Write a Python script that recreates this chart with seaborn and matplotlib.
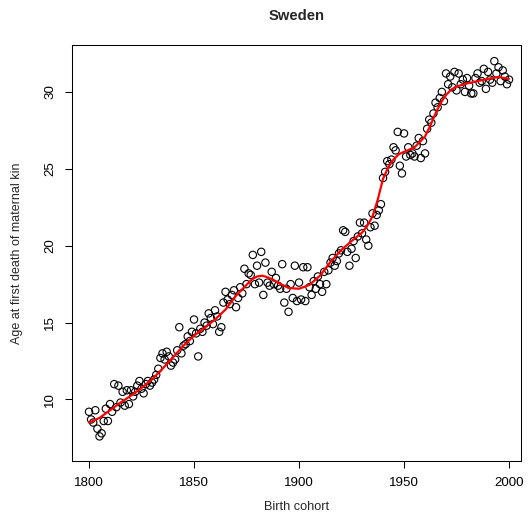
import numpy as np
import pandas as pd
import matplotlib
matplotlib.use("Agg")
import matplotlib.pyplot as plt
import seaborn as sns

# ---- data ----
years = list(range(1800, 2001))
age = [
    # 1800-1809
    9.2, 8.7, 8.5, 9.3, 8.1, 7.6, 7.8, 8.6, 9.4, 8.6,
    # 1810-1819
    9.7, 9.2, 11.0, 9.5, 10.9, 9.8, 10.5, 9.6, 10.6, 9.7,
    # 1820-1829
    10.6, 10.2, 10.5, 10.9, 11.2, 10.7, 10.4, 11.0, 11.2, 10.9,
    # 1830-1839
    11.1, 11.3, 11.6, 12.0, 12.7, 13.0, 12.6, 13.1, 12.8, 12.2,
    # 1840-1849
    12.4, 12.6, 13.2, 14.7, 13.0, 13.5, 13.6, 14.1, 13.8, 14.4,
    # 1850-1859
    15.2, 14.3, 12.8, 14.6, 14.4, 15.0, 14.8, 15.6, 15.3, 14.9,
    # 1860-1869
    15.8, 15.4, 14.4, 14.7, 16.3, 17.0, 16.5, 16.2, 16.8, 17.1,
    # 1870-1879
    16.0, 16.6, 17.3, 16.9, 18.5, 17.5, 18.2, 18.1, 19.4, 17.5,
    # 1880-1889
    18.7, 17.6, 19.6, 16.8, 18.9, 17.6, 17.4, 18.3, 17.5, 17.9,
    # 1890-1899
    17.4, 17.2, 18.8, 16.3, 17.2, 15.7, 17.5, 16.6, 18.7, 16.4,
    # 1900-1909
    17.6, 16.5, 18.6, 16.4, 18.6, 17.3, 16.8, 17.7, 17.2, 18.0,
    # 1910-1919
    17.5, 17.0, 18.3, 17.5, 18.4, 18.9, 19.2, 18.7, 19.0, 19.5,
    # 1920-1929
    19.7, 21.0, 20.9, 19.6, 18.7, 19.8, 20.3, 19.2, 20.6, 21.5,
    # 1930-1939
    20.8, 21.5, 20.4, 20.0, 21.2, 22.1, 21.3, 22.0, 22.3, 22.7,
    # 1940-1949
    24.4, 24.8, 25.5, 25.3, 25.6, 26.4, 26.2, 27.4, 25.2, 24.7,
    # 1950-1959
    27.3, 25.8, 26.4, 25.9, 26.0, 25.8, 26.5, 27.0, 25.7, 26.8,
    # 1960-1969
    26.0, 27.6, 28.2, 28.0, 28.6, 29.3, 29.0, 29.6, 30.0, 29.4,
    # 1970-1979
    31.2, 30.5, 31.0, 30.3, 31.3, 30.1, 31.2, 30.5, 30.8, 30.0,
    # 1980-1989
    30.9, 30.4, 29.9, 29.9, 30.9, 31.2, 30.6, 30.7, 31.5, 30.2,
    # 1990-2000
    31.3, 30.8, 30.6, 32.0, 31.2, 31.6, 30.7, 31.4, 31.0, 30.5, 30.8,
]

smooth_years = [
    1800, 1805, 1810, 1815, 1820, 1825, 1830, 1835, 1840, 1845,
    1850, 1855, 1860, 1865, 1870, 1875, 1877.5, 1880, 1882.5, 1885,
    1887.5, 1890, 1895, 1900, 1905, 1910, 1915, 1920, 1925, 1930,
    1932.5, 1935, 1937.5, 1940, 1942.5, 1945, 1947.5, 1950, 1955, 1960,
    1962.5, 1965, 1967.5, 1970, 1972.5, 1975, 1980, 1985, 1990, 1995,
    2000,
]
smooth_age = [
    8.5, 8.8, 9.3, 9.8, 10.25, 10.75, 11.3, 12.0, 12.75, 13.5,
    14.15, 14.65, 15.2, 15.85, 16.75, 17.45, 17.8, 18.0, 18.05, 17.95,
    17.8, 17.6, 17.25, 17.2, 17.45, 18.05, 18.95, 19.7, 20.3, 20.85,
    21.3, 21.9, 23.0, 24.35, 25.1, 25.6, 25.95, 26.1, 26.4, 27.1,
    27.8, 28.6, 29.3, 29.8, 30.15, 30.35, 30.55, 30.7, 30.85, 30.97,
    30.85,
]

x_ticks = [1800, 1850, 1900, 1950, 2000]
y_ticks = [10, 15, 20, 25, 30]

pts = pd.DataFrame({"cohort": years, "age": age})
fit = pd.DataFrame({"cohort": smooth_years, "age": smooth_age})

# ---- figure ----
sns.set_theme(style="white")
plt.rcParams["font.family"] = ["Liberation Sans", "DejaVu Sans"]

W, H = 528, 521
fig = plt.figure(figsize=(W / 100, H / 100), dpi=100)
L, R, T, B = 72, 521, 45, 461
ax = fig.add_axes([L / W, 1 - B / H, (R - L) / W, (B - T) / H])

sns.scatterplot(data=pts, x="cohort", y="age", ax=ax, marker="o",
                s=28, facecolors="none", edgecolor="black", linewidth=0.8)
sns.lineplot(data=fit, x="cohort", y="age", ax=ax, color="red",
             linewidth=1.6, estimator=None, sort=True)

ax.set_xlim(1791.9, 2005.7)
ax.set_ylim(6.0, 33.05)
ax.set_xticks(x_ticks)
ax.set_yticks(y_ticks)
ax.set_xticklabels([str(v) for v in x_ticks])
ax.set_yticklabels([str(v) for v in y_ticks], rotation=90, va="center")
ax.set_xlabel("")
ax.set_ylabel("")
for s in ax.spines.values():
    s.set_visible(True)
    s.set_color("black")
    s.set_linewidth(0.75)
ax.tick_params(axis="both", direction="out", length=5, width=0.75,
               colors="black", labelsize=9.6, pad=6.5,
               bottom=True, left=True)
ax.grid(False)

cx = (L + R) / 2 / W
fig.text(cx, 1 - 16 / H, "Sweden", ha="center", va="center",
         fontsize=10.6, fontweight="bold")
fig.text(cx, 1 - 507 / H, "Birth cohort", ha="center", va="center",
         fontsize=9.2)
fig.text(17 / W, 1 - (T + B) / 2 / H, "Age at first death of maternal kin",
         ha="center", va="center", rotation=90, fontsize=9.0)

fig.savefig("out.png", dpi=100)
